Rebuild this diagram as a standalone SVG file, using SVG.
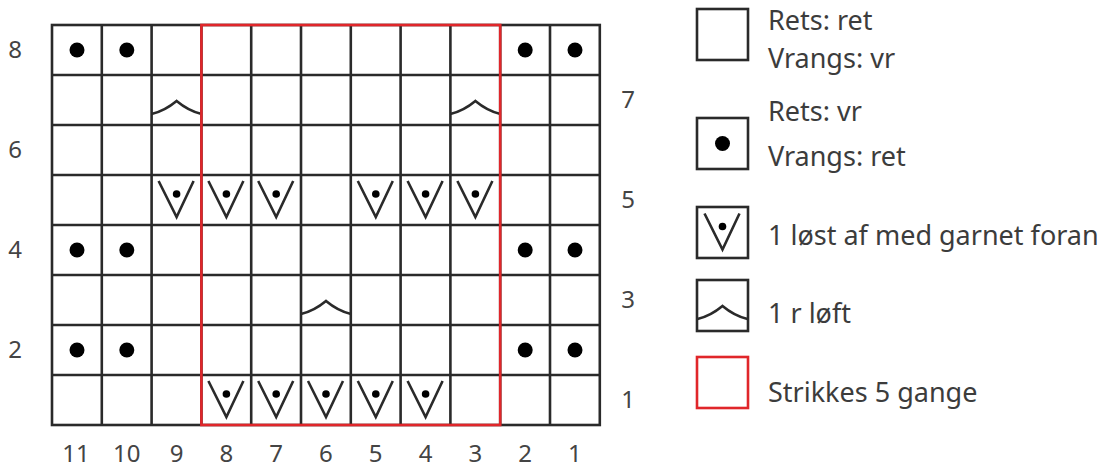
<svg xmlns="http://www.w3.org/2000/svg" xmlns:xlink="http://www.w3.org/1999/xlink" width="1115" height="468" viewBox="0 0 1115 468">
<style>
.grid{stroke:#2a2a2a;stroke-width:2.6;fill:none}
.sym{stroke:#2a2a2a;stroke-width:2.6;fill:none;stroke-linejoin:miter}
.dot{fill:#000}
.red{stroke:#e0262a;stroke-width:2.6;fill:none}
.num{font-family:"Noto Sans","Liberation Sans",sans-serif;font-size:24px;fill:#444;text-anchor:middle}
.lab{font-family:"Noto Sans","Liberation Sans",sans-serif;font-size:27px;fill:#3c3c3c}
</style>
<defs>
<g id="slip"><path class="sym" d="M7,6 L25,42 L42,6"/><circle cx="25" cy="19" r="3.8" class="dot"/></g>
<g id="lift"><path class="sym" d="M0,39 Q13,36 25,26 Q37,36 50,39"/></g>
<circle id="knot" cx="25" cy="25" r="7.5" class="dot"/>
</defs>
<rect width="1115" height="468" fill="#fff"/>
<g id="grid" class="grid">
<rect x="52" y="25" width="547.8" height="400"/>
<path d="M101.8,25V425M151.6,25V425M201.4,25V425M251.2,25V425M301,25V425M350.8,25V425M400.6,25V425M450.4,25V425M500.2,25V425M550,25V425"/>
<path d="M52,75H599.8M52,125H599.8M52,175H599.8M52,225H599.8M52,275H599.8M52,325H599.8M52,375H599.8"/>
</g>
<g id="dots">
<use xlink:href="#knot" x="52" y="25"/><use xlink:href="#knot" x="101.8" y="25"/><use xlink:href="#knot" x="500.2" y="25"/><use xlink:href="#knot" x="550" y="25"/>
<use xlink:href="#knot" x="52" y="225"/><use xlink:href="#knot" x="101.8" y="225"/><use xlink:href="#knot" x="500.2" y="225"/><use xlink:href="#knot" x="550" y="225"/>
<use xlink:href="#knot" x="52" y="325"/><use xlink:href="#knot" x="101.8" y="325"/><use xlink:href="#knot" x="500.2" y="325"/><use xlink:href="#knot" x="550" y="325"/>
</g>
<g id="slips">
<use xlink:href="#slip" x="151.6" y="175"/><use xlink:href="#slip" x="201.4" y="175"/><use xlink:href="#slip" x="251.2" y="175"/>
<use xlink:href="#slip" x="350.8" y="175"/><use xlink:href="#slip" x="400.6" y="175"/><use xlink:href="#slip" x="450.4" y="175"/>
<use xlink:href="#slip" x="201.4" y="375"/><use xlink:href="#slip" x="251.2" y="375"/><use xlink:href="#slip" x="301" y="375"/><use xlink:href="#slip" x="350.8" y="375"/><use xlink:href="#slip" x="400.6" y="375"/>
</g>
<g id="lifts">
<use xlink:href="#lift" x="151.6" y="75"/><use xlink:href="#lift" x="450.4" y="75"/><use xlink:href="#lift" x="301" y="275"/>
</g>
<g id="repeat"><rect class="red" x="201.4" y="25" width="298.8" height="400"/></g>
<g id="row-labels">
<text class="num" x="15" y="58">8</text>
<text class="num" x="15" y="158">6</text>
<text class="num" x="15" y="258">4</text>
<text class="num" x="15" y="358">2</text>
<text class="num" x="628" y="108">7</text>
<text class="num" x="628" y="208">5</text>
<text class="num" x="628" y="308">3</text>
<text class="num" x="628" y="408">1</text>
</g>
<g id="col-labels">
<text class="num" x="76" y="462">11</text>
<text class="num" x="126.7" y="462">10</text>
<text class="num" x="176.5" y="462">9</text>
<text class="num" x="226.3" y="462">8</text>
<text class="num" x="276.1" y="462">7</text>
<text class="num" x="325.9" y="462">6</text>
<text class="num" x="375.7" y="462">5</text>
<text class="num" x="425.5" y="462">4</text>
<text class="num" x="475.3" y="462">3</text>
<text class="num" x="525.1" y="462">2</text>
<text class="num" x="574.9" y="462">1</text>
</g>
<g id="legend-knit">
<rect class="grid" x="697" y="9" width="51" height="51"/>
<text class="lab" x="768" y="30">Rets: ret</text>
<text class="lab" x="768" y="68">Vrangs: vr</text>
</g>
<g id="legend-purl">
<rect class="grid" x="697" y="118" width="51" height="51"/>
<use xlink:href="#knot" x="697.5" y="118.5"/>
<text class="lab" x="768" y="121">Rets: vr</text>
<text class="lab" x="768" y="166">Vrangs: ret</text>
</g>
<g id="legend-slip">
<rect class="grid" x="697" y="207" width="51" height="51"/>
<use xlink:href="#slip" x="697.5" y="207.5"/>
<text class="lab" x="768" y="245">1 løst af med garnet foran</text>
</g>
<g id="legend-lift">
<rect class="grid" x="697" y="280" width="51" height="51"/>
<use xlink:href="#lift" x="697.5" y="280"/>
<text class="lab" x="768" y="323">1 r løft</text>
</g>
<g id="legend-repeat">
<rect class="red" x="697" y="357" width="51" height="51"/>
<text class="lab" x="768" y="402">Strikkes 5 gange</text>
</g>
</svg>
